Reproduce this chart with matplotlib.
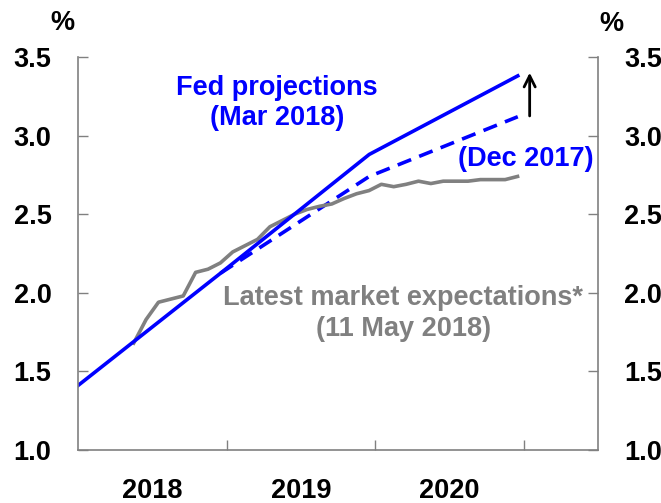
import matplotlib
matplotlib.use("Agg")
import matplotlib.pyplot as plt
import pandas as pd

plt.rcParams['font.family'] = ['Liberation Sans', 'DejaVu Sans']
plt.rcParams['font.weight'] = 'bold'

BLUE = '#0000ff'
GREY = '#808080'
FS = 19.5

# Fed projections (decimal years, %)
proj_x = [2018.0, 2018.96, 2019.96, 2020.96]
mar2018 = [1.41, 2.125, 2.88, 3.38]
dec2017_x = [2018.96, 2019.96, 2020.96]
dec2017 = [2.125, 2.74, 3.12]

# Market expectations, monthly from May 2018
market_months = pd.date_range('2018-05-01', periods=32, freq='MS')
market = [1.68, 1.83, 1.94, 1.96, 1.98, 2.13, 2.15, 2.19, 2.26, 2.30,
          2.34, 2.42, 2.46, 2.50, 2.53, 2.55, 2.565, 2.60, 2.63, 2.65,
          2.69, 2.675, 2.69, 2.71, 2.695, 2.71, 2.71, 2.71, 2.72, 2.72,
          2.72, 2.74]
market_x = market_months.year + (market_months.month - 0.5) / 12

yticks = [1.0, 1.5, 2.0, 2.5, 3.0, 3.5]
year_labels = ['2018', '2019', '2020']

fig = plt.figure(figsize=(6.61, 5.03), dpi=100)
ax = fig.add_axes([0.118, 0.1054, 0.7867, 0.7813])

ax.plot(dec2017_x, dec2017, color=BLUE, lw=2.6, linestyle=(0, (4, 2.4)))
ax.plot(market_x, market, color=GREY, lw=2.6)
ax.plot(proj_x, mar2018, color=BLUE, lw=2.6)

ax.annotate('', xy=(2021.04, 3.40), xytext=(2021.04, 3.125),
            arrowprops=dict(arrowstyle='->', color='black', lw=2,
                            mutation_scale=20, shrinkA=0, shrinkB=0))

ax.text(2019.34, 3.21, 'Fed projections\n(Mar 2018)', color=BLUE,
        fontsize=FS, ha='center', va='center', multialignment='center')
ax.text(2021.47, 2.853, '(Dec 2017)', color=BLUE, fontsize=FS,
        ha='right', va='center')
ax.text(2020.19, 1.87, 'Latest market expectations*\n(11 May 2018)',
        color=GREY, fontsize=FS, ha='center', va='center',
        multialignment='center', linespacing=1.25)

ax.set_xlim(2018.0, 2021.5)
ax.set_ylim(1.0, 3.5)

ax.set_yticks(yticks)
ax.set_yticklabels([f'{v:.1f}' for v in yticks])
ax.tick_params(axis='y', direction='in', length=7, width=1, color=GREY,
               labelsize=FS, pad=19, left=True, right=True,
               labelleft=True, labelright=True)

ax.set_xticks([2019, 2020, 2021])
ax.set_xticklabels([])
ax.set_xticks([2018.5, 2019.5, 2020.5], minor=True)
ax.set_xticklabels(year_labels, minor=True)
ax.tick_params(axis='x', which='major', direction='in', length=7,
               width=1, color=GREY)
ax.tick_params(axis='x', which='minor', length=0, labelsize=FS, pad=20)

for side in ['left', 'right', 'bottom']:
    ax.spines[side].set_color(GREY)
    ax.spines[side].set_linewidth(1.2)
ax.spines['top'].set_visible(False)

fig.text(62 / 661, 1 - 23 / 503, '%', fontsize=FS, ha='center', va='center')
fig.text(611 / 661, 1 - 24 / 503, '%', fontsize=FS, ha='center', va='center')

fig.savefig('out.png', dpi=100)
